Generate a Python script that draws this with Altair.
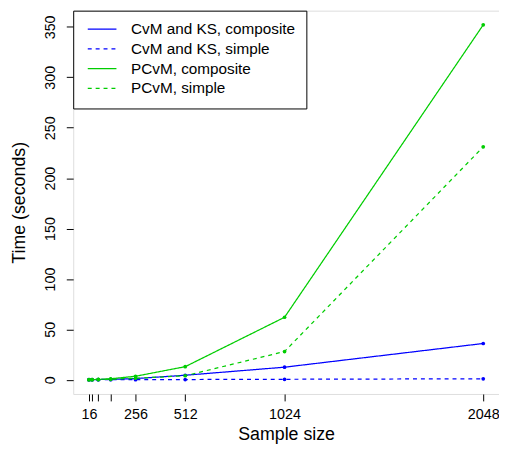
import altair as alt
import pandas as pd

sizes = [16, 32, 64, 128, 256, 512, 1024, 2048]
series_names = ["CvM and KS, composite", "CvM and KS, simple", "PCvM, composite", "PCvM, simple"]
cvm_composite = [0.1, 0.15, 0.25, 0.45, 1.2, 4.5, 12.5, 36.0]
cvm_simple = [0.05, 0.05, 0.1, 0.1, 0.15, 0.25, 0.5, 1.0]
pcvm_composite = [0.1, 0.2, 0.4, 1.0, 3.5, 13.0, 62.0, 352.0]
pcvm_simple = [0.05, 0.1, 0.2, 0.5, 1.5, 4.0, 28.0, 231.0]
tick_values = [16, 32, 64, 128, 256, 512, 1024, 2048]
tick_labels = [16, 256, 512, 1024, 2048]
y_ticks = [0, 50, 100, 150, 200, 250, 300, 350]

colors = ["#0000FF", "#0000FF", "#00CD00", "#00CD00"]
dashes = [[1, 0], [4, 4], [1, 0], [4, 4]]

rows = []
for name, vals in zip(series_names, [cvm_composite, cvm_simple, pcvm_composite, pcvm_simple]):
    for s, v in zip(sizes, vals):
        rows.append({"size": s, "time": v, "series": name})
df = pd.DataFrame(rows)

FONT = "Liberation Sans"
xdom = [16 - 0.04 * (2048 - 16), 2048 + 0.04 * (2048 - 16)]
ymax = 352.0
ydom = [-0.04 * ymax, ymax * 1.04]

label_expr = "indexof([" + ",".join(str(t) for t in tick_labels) + "], datum.value) >= 0 ? datum.label : ''"

x_enc = alt.X(
    "size:Q",
    scale=alt.Scale(domain=xdom, nice=False, zero=False),
    axis=alt.Axis(
        values=tick_values,
        labelExpr=label_expr,
        title="Sample size",
        grid=False,
        domain=False,
        tickSize=7,
        tickColor="black",
        labelPadding=7,
        labelFontSize=14.5,
        labelColor="black",
        labelFont=FONT,
        labelFlush=False,
        labelOverlap=False,
        titleFont=FONT,
        titleFontSize=18,
        titleFontWeight="normal",
        titleColor="black",
        titlePadding=5,
        format="d",
    ),
)
y_enc = alt.Y(
    "time:Q",
    scale=alt.Scale(domain=ydom, nice=False, zero=False),
    axis=alt.Axis(
        values=y_ticks,
        title="Time (seconds)",
        grid=False,
        domain=False,
        tickSize=7,
        tickColor="black",
        labelAngle=270,
        labelAlign="center",
        labelBaseline="bottom",
        labelPadding=9,
        labelFontSize=14.5,
        labelColor="black",
        labelFont=FONT,
        labelFlush=False,
        labelOverlap=False,
        titleFont=FONT,
        titleFontSize=18,
        titleFontWeight="normal",
        titleColor="black",
        titlePadding=14,
    ),
)

legend = alt.Legend(
    title=None,
    orient="none",
    legendX=0,
    legendY=0,
    symbolType="M-0.67,0H4.17",
    symbolSize=144,
    symbolStrokeWidth=1.2,
    labelFont=FONT,
    labelFontSize=15.5,
    labelColor="black",
    labelLimit=400,
    fillColor="white",
    strokeColor="black",
    padding=11,
    rowPadding=3,
    labelOffset=32,
)

color_scale = alt.Scale(domain=series_names, range=colors)
dash_scale = alt.Scale(domain=series_names, range=dashes)

lines = alt.Chart(df).mark_line(strokeWidth=1.25).encode(
    x=x_enc,
    y=y_enc,
    color=alt.Color("series:N", scale=color_scale, legend=legend, sort=series_names),
    strokeDash=alt.StrokeDash("series:N", scale=dash_scale, legend=legend, sort=series_names),
    detail="series:N",
)
points = alt.Chart(df).mark_circle(size=14, opacity=1).encode(
    x="size:Q",
    y="time:Q",
    color=alt.Color("series:N", scale=color_scale, legend=None),
)

chart = (
    alt.layer(lines, points)
    .properties(
        width=431,
        height=388,
        autosize=alt.AutoSizeParams(type="none"),
        padding={"left": 66, "top": 0, "right": 0, "bottom": 54},
    )
    .configure_view(stroke="black", strokeWidth=1)
    .configure(background="white")
)

chart.save("out.html", embed_options={"renderer": "svg", "actions": False})
